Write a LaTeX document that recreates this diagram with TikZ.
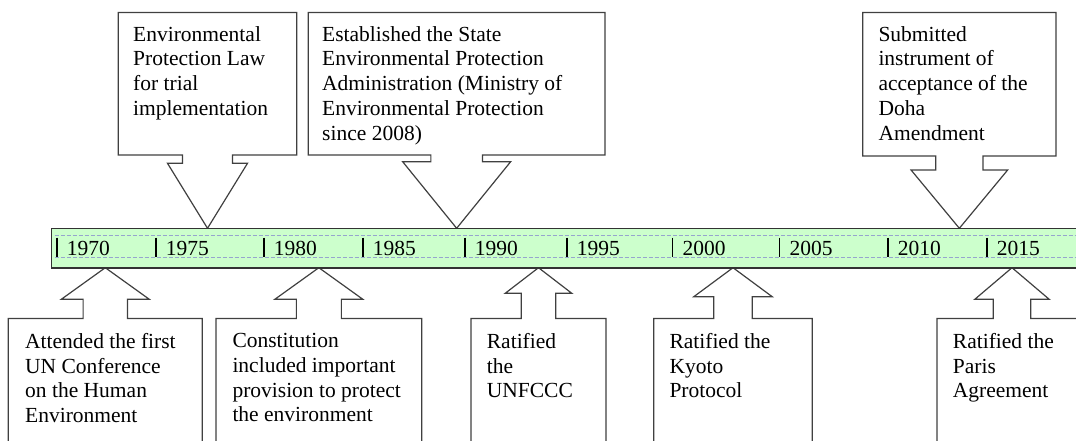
\documentclass[tikz,border=0pt]{standalone}
\usepackage{fontspec}
\setmainfont{Liberation Serif}
\usepackage{tikz}
\definecolor{barfill}{RGB}{204,255,204}
\definecolor{dashblue}{RGB}{150,165,205}

\begin{document}
\begin{tikzpicture}[x=1pt,y=-1pt]
    \tikzstyle{callout}=[draw=black!75,line width=1.2pt,fill=white]
    \tikzstyle{event}=[anchor=north west,inner sep=0pt,align=left,font=\fontsize{21.5}{24.8}\selectfont]
    \tikzstyle{year}=[anchor=base west,inner sep=0pt,font=\fontsize{21.5}{24.8}\selectfont]
    \useasboundingbox (0,0) rectangle (1076,441);

    % callouts above the bar
    \foreach \lx/\rx/\by/\sw/\hw/\hy in {118.3/296.7/155/25/40/163.3, 308.3/605/155/25.8/54/161.7, 862.7/1056/156/23.6/48.3/170}
    {
        \pgfmathsetmacro{\cx}{(\lx+\rx)/2}
        \filldraw[callout] (\lx,12.5) -- (\rx,12.5) -- (\rx,\by) -- (\cx+\sw,\by) -- (\cx+\sw,\hy) -- (\cx+\hw,\hy)
            -- (\cx,228.3) -- (\cx-\hw,\hy) -- (\cx-\sw,\hy) -- (\cx-\sw,\by) -- (\lx,\by) -- cycle;
    }

    % callouts below the bar
    \foreach \lx/\rx/\sw/\hw/\hy in {8.3/202.3/22.2/44/299.3, 216/421.7/22.5/44/299.3, 471/606/17.3/33.3/293.3, 653.7/812.3/19.2/39.2/296.7, 937/1087/18.7/37.2/299.3}
    {
        \pgfmathsetmacro{\cx}{(\lx+\rx)/2}
        \filldraw[callout] (\lx,460) -- (\lx,318.5) -- (\cx-\sw,318.5) -- (\cx-\sw,\hy) -- (\cx-\hw,\hy) -- (\cx,267.7)
            -- (\cx+\hw,\hy) -- (\cx+\sw,\hy) -- (\cx+\sw,318.5) -- (\rx,318.5) -- (\rx,460);
    }

    % time bar
    \filldraw[fill=barfill,draw=black!80,line width=1.6pt] (51.3,228.3) rectangle (1090,267.7);
    \draw[dashblue,line width=0.9pt,dash pattern=on 4pt off 2pt] (54.5,235.7) -- (1090,235.7);
    \draw[dashblue,line width=0.9pt,dash pattern=on 4pt off 2pt] (54.5,257.3) -- (1090,257.3);

    \foreach \yr/\x in {1970/56.7, 1975/155.7, 1980/263.7, 1985/362.7, 1990/464.7, 1995/566.7, 2000/672.3, 2005/779.3, 2010/887.7, 2015/986.7}
    {
        \draw[line width=1.6pt] (\x,237.7) -- (\x,257.3);
        \node[year] (Y-\yr) at (\x+10,255.3) {\yr};
    }

    \node[event] (E-1979) at (133,26) {Environmental\\Protection Law\\for trial\\implementation};
    \node[event] (E-1988) at (322,26) {Established the State\\Environmental Protection\\Administration (Ministry of\\Environmental Protection\\since 2008)};
    \node[event] (E-2014) at (878.3,26) {Submitted\\instrument of\\acceptance of the\\Doha\\Amendment};

    \node[event] (E-1972) at (25,333) {Attended the first\\UN Conference\\on the Human\\Environment};
    \node[event] (E-1982) at (232.3,333) {Constitution\\included important\\provision to protect\\the environment};
    \node[event] (E-1993) at (486.7,333) {Ratified\\the\\UNFCCC};
    \node[event] (E-2002) at (669.3,333) {Ratified the\\Kyoto\\Protocol};
    \node[event] (E-2016) at (952.7,333) {Ratified the\\Paris\\Agreement};
\end{tikzpicture}
\end{document}
